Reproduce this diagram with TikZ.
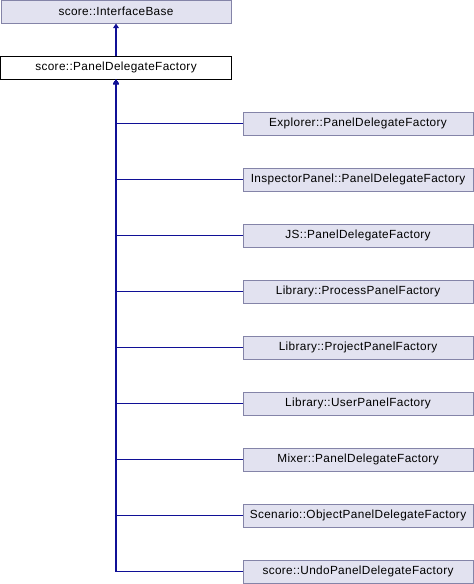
\documentclass[tikz,border=0pt]{standalone}
\usepackage{fontspec}
\setmainfont{Liberation Sans}[LetterSpace=3]
\usetikzlibrary{arrows.meta}
\definecolor{boxfill}{RGB}{226,226,240}
\definecolor{boxdraw}{RGB}{132,132,168}
\definecolor{edgecol}{RGB}{16,16,150}
\tikzset{
  cls/.style={draw=boxdraw, fill=boxfill, line width=1pt, minimum height=23pt, inner sep=0pt, font=\fontsize{11.8}{13}\selectfont, text=black},
  base/.style={cls, draw=black, fill=white},
  inh/.style={draw=edgecol, line width=1.2pt, -{Triangle[length=4.5pt,width=5.5pt]}},
}
\begin{document}
\begin{tikzpicture}[x=1pt,y=-1pt]
\useasboundingbox (0,0) rectangle (474,584);
\node[cls, minimum width=230pt] (ib) at (116,11.5) {score::InterfaceBase};
\node[base, minimum width=231pt] (pdf) at (116,67.5) {score::PanelDelegateFactory};
\draw[inh] (pdf.north) -- (ib.south);
\foreach \n/\t [count=\i from 0] in {
  c1/Explorer::PanelDelegateFactory,
  c2/InspectorPanel::PanelDelegateFactory,
  c3/JS::PanelDelegateFactory,
  c4/Library::ProcessPanelFactory,
  c5/Library::ProjectPanelFactory,
  c6/Library::UserPanelFactory,
  c7/Mixer::PanelDelegateFactory,
  c8/Scenario::ObjectPanelDelegateFactory,
  c9/score::UndoPanelDelegateFactory} {
  \node[cls, minimum width=230pt] (\n) at (358,123.5+56*\i) {\t};
  \draw[inh] (\n.west) -| (pdf.south);
}
\end{tikzpicture}
\end{document}
